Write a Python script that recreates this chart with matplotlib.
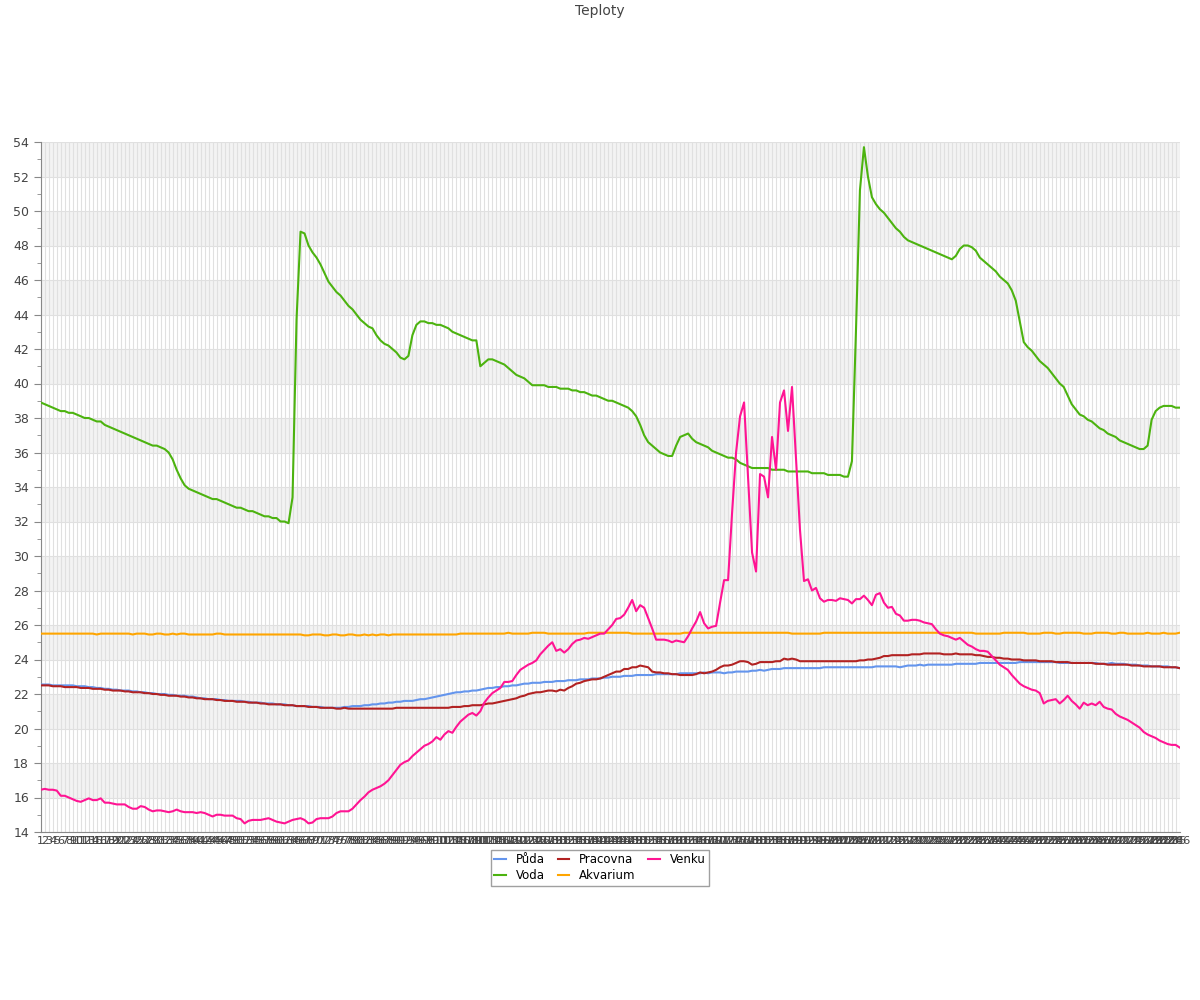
import numpy as np
import matplotlib
matplotlib.use("Agg")
import matplotlib.pyplot as plt
from matplotlib.ticker import MultipleLocator

# ---- data ----
labels = [str(i) for i in range(1, 287)]

puda = [
    22.55, 22.55, 22.55, 22.5, 22.5, 22.5, 22.5, 22.5, 22.5, 22.45, 22.45, 22.45, 22.4, 22.4, 22.35, 22.35,
    22.3, 22.3, 22.25, 22.25, 22.2, 22.2, 22.2, 22.15, 22.15, 22.1, 22.1, 22.05, 22.05, 22.0, 22.0, 22.0,
    21.95, 21.95, 21.9, 21.9, 21.9, 21.85, 21.85, 21.8, 21.75, 21.75, 21.7, 21.7, 21.7, 21.65, 21.65, 21.6,
    21.6, 21.6, 21.6, 21.55, 21.55, 21.5, 21.5, 21.5, 21.45, 21.45, 21.45, 21.4, 21.4, 21.4, 21.35, 21.35,
    21.3, 21.3, 21.3, 21.3, 21.25, 21.25, 21.25, 21.2, 21.2, 21.2, 21.2, 21.2,
    21.25, 21.25, 21.3, 21.3, 21.3, 21.35, 21.35, 21.4, 21.4, 21.45, 21.45, 21.5, 21.5, 21.55, 21.55,
    21.6, 21.6, 21.6, 21.65, 21.7, 21.7, 21.75, 21.8, 21.85, 21.9, 21.95, 22.0, 22.05, 22.1, 22.1,
    22.15, 22.15, 22.2, 22.2, 22.25, 22.3, 22.35, 22.35, 22.4, 22.4, 22.45, 22.45, 22.5, 22.5, 22.55,
    22.6, 22.6, 22.65, 22.65, 22.65, 22.7, 22.7, 22.7, 22.75, 22.75, 22.75, 22.8, 22.8, 22.8, 22.85,
    22.85, 22.85, 22.9, 22.9, 22.9,
    22.95, 22.95, 23.0, 23.0, 23.0, 23.05, 23.05, 23.05, 23.1, 23.1, 23.1, 23.1, 23.1, 23.15, 23.15,
    23.15, 23.15, 23.15, 23.15, 23.2, 23.2, 23.2, 23.2, 23.2, 23.2,
    23.25, 23.2, 23.25, 23.25, 23.25, 23.2, 23.25, 23.25, 23.3, 23.3, 23.3, 23.3, 23.35, 23.35, 23.4,
    23.35, 23.4, 23.45, 23.45, 23.45, 23.5, 23.5, 23.5, 23.5, 23.5,
    23.5, 23.5, 23.5, 23.5, 23.5, 23.55, 23.55, 23.55, 23.55, 23.55, 23.55, 23.55, 23.55, 23.55, 23.55,
    23.55, 23.55, 23.55, 23.6, 23.6, 23.6, 23.6, 23.6, 23.6, 23.55,
    23.6, 23.65, 23.65, 23.65, 23.7, 23.65, 23.7, 23.7, 23.7, 23.7, 23.7, 23.7, 23.7, 23.75, 23.75,
    23.75, 23.75, 23.75, 23.75, 23.8, 23.8, 23.8, 23.8, 23.8, 23.8,
    23.8, 23.8, 23.8, 23.8, 23.85, 23.85, 23.85, 23.85, 23.85, 23.85, 23.85, 23.85, 23.85, 23.85, 23.8,
    23.8, 23.8, 23.8, 23.8, 23.8, 23.8, 23.8, 23.8, 23.8, 23.75,
    23.75, 23.75, 23.8, 23.75, 23.75, 23.75, 23.7, 23.7, 23.7, 23.65, 23.65, 23.65, 23.6, 23.6, 23.6,
    23.6, 23.6, 23.55, 23.55, 23.5,
]

voda = [
    38.9, 38.8, 38.7, 38.6, 38.5, 38.4, 38.4, 38.3, 38.3, 38.2, 38.1, 38.0, 38.0, 37.9, 37.8, 37.8,
    37.6, 37.5, 37.4, 37.3, 37.2, 37.1, 37.0, 36.9, 36.8, 36.7, 36.6, 36.5, 36.4, 36.4, 36.3, 36.2,
    36.0, 35.6, 35.0, 34.5, 34.1, 33.9, 33.8, 33.7, 33.6,
    33.5, 33.4, 33.3, 33.3, 33.2, 33.1, 33.0, 32.9, 32.8, 32.8, 32.7, 32.6, 32.6, 32.5, 32.4, 32.3,
    32.3, 32.2, 32.2, 32.0, 32.0, 31.9,
    33.4, 43.7, 48.8, 48.7, 48.0, 47.6, 47.3, 46.9, 46.4, 45.9, 45.6, 45.3, 45.1, 44.8, 44.5, 44.3,
    44.0, 43.7, 43.5, 43.3, 43.2, 42.8, 42.5, 42.3, 42.2, 42.0, 41.8, 41.5, 41.4, 41.6, 42.8, 43.4,
    43.6, 43.6, 43.5, 43.5, 43.4, 43.4, 43.3, 43.2, 43.0, 42.9, 42.8, 42.7, 42.6, 42.5, 42.5, 41.0,
    41.2, 41.4, 41.4, 41.3, 41.2, 41.1, 40.9, 40.7, 40.5, 40.4, 40.3, 40.1, 39.9, 39.9, 39.9, 39.9,
    39.8, 39.8, 39.8, 39.7, 39.7, 39.7, 39.6, 39.6, 39.5, 39.5, 39.4, 39.3, 39.3, 39.2, 39.1, 39.0,
    39.0, 38.9, 38.8, 38.7, 38.6, 38.4, 38.1, 37.6, 37.0, 36.6, 36.4, 36.2, 36.0, 35.9, 35.8, 35.8,
    36.4, 36.9, 37.0, 37.1, 36.8, 36.6, 36.5, 36.4, 36.3, 36.1, 36.0, 35.9, 35.8, 35.7, 35.7, 35.6,
    35.4, 35.3, 35.2, 35.1, 35.1, 35.1, 35.1, 35.1, 35.0, 35.0, 35.0, 35.0, 34.9, 34.9, 34.9, 34.9,
    34.9, 34.9, 34.8, 34.8, 34.8, 34.8, 34.7, 34.7, 34.7, 34.7, 34.6, 34.6, 35.5, 43.0, 51.2, 53.7,
    52.0, 50.8, 50.4, 50.1, 49.9, 49.6, 49.3, 49.0, 48.8, 48.5, 48.3, 48.2, 48.1, 48.0, 47.9, 47.8,
    47.7, 47.6, 47.5, 47.4, 47.3, 47.2, 47.4, 47.8, 48.0, 48.0, 47.9, 47.7, 47.3, 47.1, 46.9, 46.7,
    46.5, 46.2, 46.0, 45.8, 45.4, 44.8, 43.6, 42.4, 42.1, 41.9, 41.6, 41.3, 41.1, 40.9, 40.6, 40.3,
    40.0, 39.8, 39.3, 38.8, 38.5, 38.2, 38.1, 37.9, 37.8, 37.6, 37.4, 37.3, 37.1, 37.0, 36.9, 36.7,
    36.6, 36.5, 36.4, 36.3, 36.2, 36.2, 36.4, 37.9, 38.4, 38.6, 38.7, 38.7, 38.7, 38.6, 38.6,
]

pracovna = [
    22.5, 22.5, 22.5, 22.45, 22.45, 22.45, 22.4, 22.4, 22.4, 22.4, 22.35, 22.35, 22.35, 22.3, 22.3, 22.3,
    22.25, 22.25, 22.2, 22.2, 22.2, 22.15, 22.15, 22.1, 22.1, 22.1, 22.05, 22.05, 22.0, 22.0, 21.95, 21.95,
    21.9, 21.9, 21.9, 21.85, 21.85, 21.8, 21.8, 21.75, 21.75, 21.7, 21.7, 21.7, 21.65, 21.65, 21.6, 21.6,
    21.6, 21.55, 21.55, 21.55, 21.5, 21.5, 21.5, 21.45, 21.45, 21.4, 21.4, 21.4, 21.4, 21.35, 21.35, 21.35,
    21.3, 21.3, 21.3, 21.25, 21.25, 21.25, 21.2, 21.2, 21.2, 21.2, 21.15, 21.15,
    21.2, 21.15, 21.15, 21.15, 21.15, 21.15, 21.15, 21.15, 21.15, 21.15, 21.15, 21.15, 21.15, 21.2, 21.2,
    21.2, 21.2, 21.2, 21.2, 21.2, 21.2, 21.2, 21.2, 21.2, 21.2, 21.2, 21.2, 21.25, 21.25, 21.25,
    21.3, 21.3, 21.35, 21.35, 21.35, 21.4, 21.45, 21.45, 21.5, 21.55, 21.6, 21.65, 21.7, 21.75, 21.85,
    21.9, 22.0, 22.05, 22.1, 22.1, 22.15, 22.2, 22.2, 22.15, 22.25, 22.2, 22.35, 22.45, 22.6, 22.65,
    22.75, 22.8, 22.85, 22.85, 22.9, 23.0, 23.1, 23.2, 23.3, 23.3, 23.45, 23.45, 23.55, 23.55, 23.65,
    23.6, 23.55,
    23.3, 23.25, 23.25, 23.2, 23.2, 23.15, 23.15, 23.1, 23.1, 23.1, 23.1, 23.15, 23.25, 23.2, 23.25,
    23.3, 23.4, 23.55, 23.65, 23.65, 23.7, 23.8, 23.9, 23.9, 23.85, 23.7, 23.75, 23.85, 23.85, 23.85,
    23.85, 23.9, 23.9, 24.05, 24.0, 24.05, 24.0, 23.9, 23.9, 23.9, 23.9,
    23.9, 23.9, 23.9, 23.9, 23.9, 23.9, 23.9, 23.9, 23.9, 23.9, 23.9,
    23.95, 23.95, 24.0, 24.0, 24.05, 24.1, 24.2, 24.2, 24.25, 24.25, 24.25, 24.25, 24.25, 24.3, 24.3,
    24.3, 24.35, 24.35, 24.35, 24.35, 24.35, 24.3, 24.3, 24.3, 24.35, 24.3, 24.3, 24.3, 24.3, 24.25,
    24.25, 24.2, 24.15, 24.15, 24.1, 24.1, 24.05, 24.05, 24.0, 24.0, 24.0, 23.95, 23.95, 23.95, 23.95,
    23.9, 23.9, 23.9, 23.9, 23.85, 23.85, 23.85, 23.85, 23.8, 23.8, 23.8, 23.8, 23.8, 23.8, 23.75,
    23.75, 23.75, 23.7, 23.7, 23.7, 23.7, 23.7, 23.7, 23.65, 23.65, 23.65, 23.6, 23.6, 23.6, 23.6,
    23.6, 23.55, 23.55, 23.55, 23.55, 23.5,
]

akvarium = [
    25.5, 25.5, 25.5, 25.5, 25.5, 25.5, 25.5, 25.5, 25.5, 25.5, 25.5, 25.5, 25.5,
    25.5, 25.45, 25.5, 25.5, 25.5, 25.5, 25.5, 25.5, 25.5, 25.5, 25.45, 25.5, 25.5,
    25.5, 25.45, 25.45, 25.5, 25.5, 25.45, 25.45, 25.5, 25.45, 25.5, 25.5, 25.45, 25.45,
    25.45, 25.45, 25.45, 25.45, 25.45, 25.5, 25.5, 25.45, 25.45, 25.45, 25.45, 25.45, 25.45,
    25.45, 25.45, 25.45, 25.45, 25.45, 25.45, 25.45, 25.45, 25.45, 25.45, 25.45, 25.45, 25.45,
    25.45, 25.4, 25.4, 25.45, 25.45, 25.45, 25.4, 25.4, 25.45, 25.45, 25.4, 25.4, 25.45,
    25.45, 25.4, 25.4, 25.45, 25.4, 25.45, 25.4, 25.45, 25.45, 25.4, 25.45, 25.45, 25.45,
    25.45, 25.45, 25.45, 25.45, 25.45, 25.45, 25.45, 25.45, 25.45, 25.45, 25.45, 25.45, 25.45,
    25.45, 25.5, 25.5, 25.5, 25.5, 25.5, 25.5, 25.5, 25.5, 25.5, 25.5, 25.5, 25.5,
    25.55, 25.5, 25.5, 25.5, 25.5, 25.5, 25.55, 25.55, 25.55, 25.55, 25.5, 25.5, 25.5,
    25.5, 25.5, 25.5, 25.5, 25.5, 25.5, 25.5, 25.55, 25.55, 25.55, 25.55, 25.55, 25.55,
    25.55, 25.55, 25.55, 25.55, 25.55, 25.5, 25.5, 25.5, 25.5, 25.5, 25.5, 25.5, 25.5,
    25.5, 25.5, 25.5, 25.5, 25.5, 25.55, 25.55, 25.55, 25.55, 25.55, 25.55, 25.55, 25.55,
    25.55, 25.55, 25.55, 25.55, 25.55, 25.55, 25.55, 25.55, 25.55, 25.55, 25.55, 25.55, 25.55,
    25.55, 25.55, 25.55, 25.55, 25.55, 25.55, 25.5, 25.5, 25.5, 25.5, 25.5, 25.5, 25.5,
    25.5, 25.55, 25.55, 25.55, 25.55, 25.55, 25.55, 25.55, 25.55, 25.55, 25.55, 25.55, 25.55,
    25.55, 25.55, 25.55, 25.55, 25.55, 25.55, 25.55, 25.55, 25.55, 25.55, 25.55, 25.55, 25.55,
    25.55, 25.55, 25.55, 25.55, 25.55, 25.55, 25.55, 25.55, 25.55, 25.55, 25.55, 25.55, 25.55,
    25.5, 25.5, 25.5, 25.5, 25.5, 25.5, 25.5, 25.55, 25.55, 25.55, 25.55, 25.55, 25.55,
    25.5, 25.5, 25.5, 25.5, 25.55, 25.55, 25.55, 25.5, 25.5, 25.55, 25.55, 25.55, 25.55,
    25.55, 25.5, 25.5, 25.5, 25.55, 25.55, 25.55, 25.55, 25.5, 25.5, 25.55, 25.55, 25.5,
    25.5, 25.5, 25.5, 25.5, 25.55, 25.5, 25.5, 25.5, 25.55, 25.5, 25.5, 25.5, 25.55,
]

venku = [
    16.45, 16.5, 16.45, 16.45, 16.4, 16.1, 16.1, 16.0, 15.9, 15.8, 15.75, 15.85, 15.95, 15.85, 15.85, 15.95,
    15.7, 15.7, 15.65, 15.6, 15.6, 15.6, 15.45, 15.35, 15.35, 15.5, 15.45, 15.3, 15.2, 15.25, 15.25, 15.2,
    15.15, 15.2, 15.3, 15.2, 15.15, 15.15, 15.15, 15.1, 15.15, 15.1, 15.0, 14.9, 15.0, 15.0, 14.95, 14.95,
    14.95, 14.8, 14.75, 14.5, 14.65, 14.7, 14.7, 14.7, 14.75, 14.8, 14.7, 14.6,
    14.55, 14.5, 14.6, 14.7, 14.75, 14.8, 14.7, 14.5, 14.55, 14.75, 14.8, 14.8,
    14.8, 14.9, 15.1, 15.2, 15.2, 15.2, 15.35, 15.6, 15.85, 16.05, 16.3, 16.45, 16.55, 16.65, 16.8, 17.0,
    17.3, 17.6,
    17.9, 18.05, 18.15, 18.4, 18.6, 18.8, 19.0, 19.1, 19.25, 19.5, 19.35, 19.65, 19.85, 19.75, 20.1, 20.4,
    20.6, 20.8, 20.9, 20.75,
    21.0, 21.5, 21.8, 22.05, 22.2, 22.35, 22.7, 22.7, 22.75, 23.1, 23.4, 23.55, 23.7, 23.8, 23.95,
    24.3, 24.55, 24.8, 25.0, 24.5, 24.6, 24.4, 24.6, 24.9, 25.1, 25.15,
    25.25, 25.2, 25.3, 25.4, 25.5, 25.5, 25.75, 26.0, 26.35, 26.4, 26.6, 27.0, 27.45, 26.8, 27.15, 27.0,
    26.4, 25.8, 25.15, 25.15, 25.15, 25.1, 25.0, 25.1, 25.05, 25.0, 25.35, 25.8, 26.2, 26.75, 26.1, 25.8,
    25.9, 25.95, 27.3, 28.6, 28.6, 32.5, 36.0, 38.1, 38.9, 34.6, 30.2, 29.1, 34.75, 34.6, 33.4, 36.9,
    35.0, 38.9, 39.6, 37.25, 39.8, 35.6, 31.5, 28.55, 28.65, 28.0, 28.15, 27.55, 27.35, 27.45, 27.45,
    27.4, 27.55, 27.5, 27.45, 27.25, 27.5, 27.5, 27.7, 27.45, 27.15, 27.75, 27.85, 27.3, 27.0, 27.05,
    26.65, 26.55, 26.25, 26.25, 26.3, 26.3, 26.25, 26.15, 26.1, 26.05, 25.75, 25.5, 25.4, 25.35, 25.25,
    25.15, 25.25, 25.05, 24.85, 24.75, 24.6, 24.5, 24.5, 24.45, 24.2, 23.95, 23.7, 23.55, 23.4, 23.1,
    22.85, 22.6, 22.45, 22.35, 22.25, 22.2, 22.05, 21.45, 21.6, 21.65, 21.7, 21.45, 21.65, 21.9, 21.6,
    21.4, 21.15, 21.5, 21.35, 21.45, 21.35, 21.55, 21.25, 21.15, 21.1, 20.85, 20.7, 20.6, 20.5, 20.35,
    20.2, 20.05, 19.8, 19.65, 19.55, 19.45, 19.3, 19.2, 19.1, 19.05, 19.05, 18.9,
]

series = [
    ("Půda", puda, "#6495ed"),
    ("Voda", voda, "#4cb30f"),
    ("Pracovna", pracovna, "#b22222"),
    ("Akvarium", akvarium, "#ffa500"),
    ("Venku", venku, "#ff1493"),
]

# ---- figure ----
fig = plt.figure(figsize=(12, 10), dpi=100)
ax = fig.add_axes([0.034, 0.168, 0.949, 0.690])

x = np.arange(len(labels))

# alternating bands
for lo in range(16, 54, 4):
    ax.axhspan(lo, lo + 2, color="#f3f3f3", zorder=0, lw=0)

ax.set_xticks(x)
ax.set_xticklabels(labels, fontsize=8, color="#444444")
ax.grid(True, axis="both", color="#e0e0e0", lw=0.8, zorder=1)
ax.set_axisbelow(True)

for name, vals, col in series:
    ax.plot(x[:len(vals)], vals[:len(labels)], color=col, lw=1.5, label=name, zorder=3)

ax.set_xlim(0, len(labels) - 1)
ax.set_ylim(14, 54)
ax.yaxis.set_major_locator(MultipleLocator(2))
ax.yaxis.set_minor_locator(MultipleLocator(1))
ax.tick_params(axis="y", which="major", length=5, color="#888888", labelsize=9, labelcolor="#444444")
ax.tick_params(axis="y", which="minor", length=3, color="#888888")
ax.tick_params(axis="x", length=0, pad=3)

for s in ["top", "right"]:
    ax.spines[s].set_visible(False)
for s in ["left", "bottom"]:
    ax.spines[s].set_color("#888888")

fig.suptitle("Teploty", y=0.996, fontsize=10, color="#444444")

leg = fig.legend(loc="upper center", bbox_to_anchor=(0.5, 0.156), ncol=3, fontsize=8.5,
                 handlelength=1.0, handletextpad=0.8, columnspacing=1.1, frameon=True,
                 fancybox=False, borderpad=0.3, labelspacing=0.25)
leg.get_frame().set_edgecolor("#888888")

fig.savefig("out.png", dpi=100)
